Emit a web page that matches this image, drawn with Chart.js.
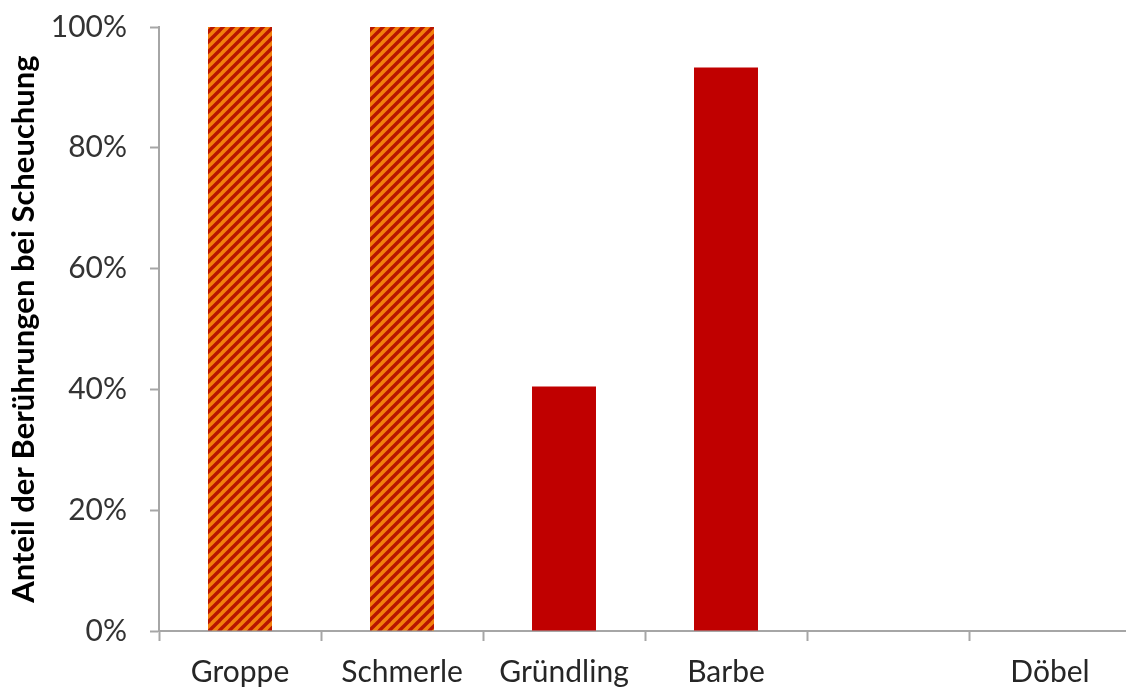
<!DOCTYPE html>
<html lang="de">
<head>
<meta charset="utf-8">
<title>Anteil der Berührungen bei Scheuchung</title>
<script src="https://cdn.jsdelivr.net/npm/chart.js@4"></script>
<style>
    html, body { margin: 0; padding: 0; background: #fff; overflow: hidden; }
    #wrap { position: absolute; left: 0; top: 0; width: 1135px; height: 690px; }
</style>
</head>
<body>
<div id="wrap"><canvas id="scheuchChart"></canvas></div>
<script>
// Fischarten und Anteil der Berührungen (0..1)
const species = ["Groppe", "Schmerle", "Gründling", "Barbe", "", "Döbel"];
const touchShare = [1.0, 1.0, 0.405, 0.933, null, 0];
// Bodenorientierte Arten werden schraffiert dargestellt
const hatched = [true, true, false, false, false, false];
const yTicks = [0, 0.2, 0.4, 0.6, 0.8, 1.0];

const AXIS_GREY = "#a6a6a6";
const SOLID_RED = "#c00000";

// Schraffur: orange Fläche mit dunkelroten Diagonalen "/"
function makeHatch() {
    const size = 10;
    const tile = document.createElement("canvas");
    tile.width = size;
    tile.height = size;
    const t = tile.getContext("2d");
    t.fillStyle = "#f2800c";
    t.fillRect(0, 0, size, size);
    t.strokeStyle = "#b81400";
    t.lineWidth = 3.4;
    for (const off of [-size, 0, size]) {
        t.beginPath();
        t.moveTo(off - 1, size + 1);
        t.lineTo(off + size + 1, -1);
        t.stroke();
    }
    return document.getElementById("scheuchChart").getContext("2d").createPattern(tile, "repeat");
}

const hatch = makeHatch();

new Chart(document.getElementById("scheuchChart"), {
    type: "bar",
    data: {
        labels: species,
        datasets: [{
            data: touchShare,
            backgroundColor: hatched.map(h => h ? hatch : SOLID_RED),
            borderWidth: 0,
            barPercentage: 0.395,
            categoryPercentage: 1.0
        }]
    },
    options: {
        responsive: true,
        maintainAspectRatio: false,
        animation: false,
        layout: { padding: { left: 0, top: 27, right: 4, bottom: 0 } },
        plugins: {
            legend: { display: false },
            tooltip: { enabled: false }
        },
        scales: {
            x: {
                offset: true,
                grid: {
                    offset: true,
                    drawOnChartArea: false,
                    drawTicks: true,
                    tickLength: 10,
                    tickColor: AXIS_GREY,
                    tickWidth: 2
                },
                border: { color: AXIS_GREY, width: 2 },
                ticks: {
                    color: "#262626",
                    padding: 13,
                    maxRotation: 0,
                    autoSkip: false,
                    font: { family: "Lato", size: 30 }
                },
                afterFit: (scale) => {
                    scale.height = 59;
                    scale.paddingLeft = 0;
                    scale.paddingRight = 0;
                }
            },
            y: {
                min: 0,
                max: 1,
                afterBuildTicks: (scale) => {
                    scale.ticks = yTicks.map(v => ({ value: v }));
                },
                grid: {
                    drawOnChartArea: false,
                    drawTicks: true,
                    tickLength: 9,
                    tickColor: AXIS_GREY,
                    tickWidth: 2
                },
                border: { color: AXIS_GREY, width: 2 },
                ticks: {
                    color: "#333333",
                    padding: 23,
                    font: { family: "Lato", size: 30 },
                    callback: (v) => Math.round(v * 100) + "%"
                },
                title: {
                    display: true,
                    text: "Anteil der Berührungen bei Scheuchung",
                    color: "#000000",
                    padding: { top: 5, bottom: 0 },
                    font: { family: "Lato", size: 31, weight: "bold" }
                },
                afterFit: (scale) => {
                    scale.width = 159;
                    scale.paddingTop = 0;
                    scale.paddingBottom = 0;
                }
            }
        }
    }
});
</script>
</body>
</html>
